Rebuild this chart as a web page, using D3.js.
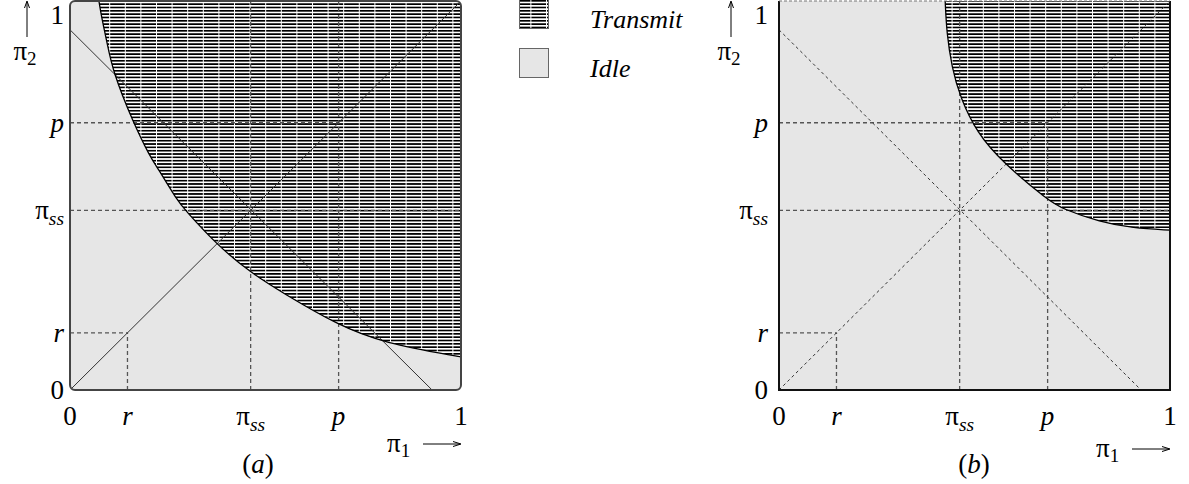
<!DOCTYPE html>
<html>
<head>
<meta charset="utf-8">
<script src="https://cdn.jsdelivr.net/npm/d3@7"></script>
<style>
  body { margin: 0; background: #fff; }
  svg text { font-family: "Liberation Serif", "Times New Roman", Times, serif; }
</style>
</head>
<body>
<svg id="chart" width="1189" height="484"></svg>
<script>
// Axis marks shared by both panels (pi_1 and pi_2 axes)
const tickNames = ["0", "r", "π_ss", "p", "1"];
const tickValues = [0, 0.147, 0.462, 0.687, 1];

// Boundary between the Idle and Transmit regions, panel (a)
const boundaryA = [
  [0.074, 1.000], [0.081, 0.957], [0.094, 0.897], [0.110, 0.817],
  [0.161, 0.689], [0.205, 0.599], [0.223, 0.573], [0.274, 0.488],
  [0.294, 0.463], [0.376, 0.373], [0.460, 0.303], [0.545, 0.249],
  [0.685, 0.167], [0.801, 0.121], [1.000, 0.085]
];
// Boundary between the Idle and Transmit regions, panel (b)
const boundaryB = [
  [0.425, 1.000], [0.429, 0.916], [0.442, 0.830], [0.463, 0.753],
  [0.506, 0.661], [0.573, 0.584], [0.688, 0.488], [0.726, 0.465],
  [0.821, 0.432], [0.905, 0.416], [1.000, 0.411]
];

// Reference lines: pi_1 = pi_2 and pi_1 + pi_2 = 2 pi_ss
const diagonal = [[0, 0], [1, 1]];
const antiDiagonal = [[0, 0.926], [0.926, 0]];

// Guide lines at r, pi_ss, p: does the horizontal / vertical one cross the whole panel?
const fullHorizA = [false, true, false];
const fullVertA = [false, true, true];
const fullHorizB = [false, true, false];
const fullVertB = [false, true, false];

const legendLabels = ["Transmit", "Idle"];
const panelLabels = ["(a)", "(b)"];

const svg = d3.select("#chart");
const defs = svg.append("defs");

// Horizontal hatching broken by thin white vertical gaps
const hatch = defs.append("pattern")
  .attr("id", "hatch")
  .attr("patternUnits", "userSpaceOnUse")
  .attr("width", 15.6).attr("height", 3.33);
hatch.append("rect").attr("width", 15.6).attr("height", 3.33).attr("fill", "#fff");
hatch.append("rect").attr("width", 15.6).attr("height", 1.6).attr("fill", "#000")
  .attr("shape-rendering", "crispEdges");
hatch.append("rect").attr("width", 1).attr("height", 3.33).attr("fill", "#fff")
  .attr("shape-rendering", "crispEdges");

const IDLE = "#e6e6e6";

const panels = [
  { label: panelLabels[0], x0: 70, x1: 461, y0: 390, y1: 1, boundary: boundaryA,
    fullH: fullHorizA, fullV: fullVertA, rounded: 5, refDash: null, yLabelGap: 6,
    arrow2X: 27, pi1Y: 444, captionX: 258 },
  { label: panelLabels[1], x0: 779, x1: 1170, y0: 390, y1: 1, boundary: boundaryB,
    fullH: fullHorizB, fullV: fullVertB, rounded: 0, refDash: "3,3", yLabelGap: 11,
    arrow2X: 731, pi1Y: 449, captionX: 974 }
];

function drawName(sel, name, size) {
  sel.attr("font-size", size);
  if (name === "π_ss") {
    sel.append("tspan").text("π");
    sel.append("tspan").text("ss").attr("font-style", "italic")
      .attr("font-size", size * 0.72).attr("dy", size * 0.22);
  } else if (/^[0-9]$/.test(name)) {
    sel.text(name);
  } else {
    sel.text(name).attr("font-style", "italic");
  }
}

panels.forEach(P => {
  const x = d3.scaleLinear().domain([0, 1]).range([P.x0, P.x1]);
  const y = d3.scaleLinear().domain([0, 1]).range([P.y0, P.y1]);
  const g = svg.append("g");
  const clipId = "clip" + P.label.replace(/[()]/g, "");
  defs.append("clipPath").attr("id", clipId)
    .append("rect")
    .attr("x", x(0)).attr("y", y(1))
    .attr("width", x(1) - x(0)).attr("height", y(0) - y(1))
    .attr("rx", P.rounded);

  const inner = g.append("g").attr("clip-path", `url(#${clipId})`);

  // Idle background
  inner.append("rect")
    .attr("x", x(0)).attr("y", y(1))
    .attr("width", x(1) - x(0)).attr("height", y(0) - y(1))
    .attr("fill", IDLE);

  // Transmit region: above the boundary curve
  const area = d3.area()
    .x(d => x(d[0])).y0(y(1)).y1(d => y(d[1]))
    .curve(d3.curveBasis);
  inner.append("path").datum(P.boundary)
    .attr("d", area).attr("fill", "url(#hatch)");

  // Dashed guide lines at r, pi_ss, p
  const guides = tickValues.slice(1, 4);
  guides.forEach((v, i) => {
    inner.append("line")
      .attr("x1", x(0)).attr("x2", x(P.fullH[i] ? 1 : v)).attr("y1", y(v)).attr("y2", y(v))
      .attr("stroke", "#555").attr("stroke-width", 1.3).attr("stroke-dasharray", "4,3");
    inner.append("line")
      .attr("x1", x(v)).attr("x2", x(v)).attr("y1", y(0)).attr("y2", y(P.fullV[i] ? 1 : v))
      .attr("stroke", "#555").attr("stroke-width", 1.3).attr("stroke-dasharray", "4,3");
  });

  // Reference lines
  const line = d3.line().x(d => x(d[0])).y(d => y(d[1]));
  [diagonal, antiDiagonal].forEach(seg => {
    inner.append("path").datum(seg).attr("d", line)
      .attr("fill", "none").attr("stroke", "#333").attr("stroke-width", 1)
      .attr("stroke-dasharray", P.refDash);
  });

  // Boundary curve
  inner.append("path").datum(P.boundary)
    .attr("d", d3.line().x(d => x(d[0])).y(d => y(d[1])).curve(d3.curveBasis))
    .attr("fill", "none").attr("stroke", "#000").attr("stroke-width", 1.3);

  // Frame
  if (P.rounded) {
    g.append("rect")
      .attr("x", x(0)).attr("y", y(1))
      .attr("width", x(1) - x(0)).attr("height", y(0) - y(1))
      .attr("rx", P.rounded)
      .attr("fill", "none").attr("stroke", "#444").attr("stroke-width", 2);
  } else {
    g.append("path")
      .attr("d", `M${x(0)},${y(1)}V${y(0)}H${x(1)}V${y(1)}`)
      .attr("fill", "none").attr("stroke", "#111").attr("stroke-width", 2);
    g.append("line")
      .attr("x1", x(0)).attr("x2", x(1)).attr("y1", y(1)).attr("y2", y(1))
      .attr("stroke", "#777").attr("stroke-width", 1).attr("stroke-dasharray", "3,2");
  }

  // Tick labels on pi_1 axis
  tickNames.forEach((name, i) => {
    g.append("text")
      .attr("x", x(tickValues[i])).attr("y", 425)
      .attr("text-anchor", "middle")
      .call(drawName, name, 27);
  });
  // Tick labels on pi_2 axis (the top one kept inside the page)
  tickNames.forEach((name, i) => {
    g.append("text")
      .attr("x", x(0) - P.yLabelGap).attr("y", Math.max(y(tickValues[i]), 15))
      .attr("dy", "0.33em")
      .attr("text-anchor", "end")
      .call(drawName, name, 27);
  });

  // pi_2 axis arrow and name
  g.append("line")
    .attr("x1", P.arrow2X).attr("x2", P.arrow2X).attr("y1", 37).attr("y2", 2)
    .attr("stroke", "#000").attr("stroke-width", 1);
  g.append("path")
    .attr("d", `M${P.arrow2X - 2.5},8 L${P.arrow2X},1 L${P.arrow2X + 2.5},8`)
    .attr("fill", "none").attr("stroke", "#000").attr("stroke-width", 1);
  const t2 = g.append("text").attr("x", P.arrow2X - 2).attr("y", 60)
    .attr("text-anchor", "middle").attr("font-size", 27);
  t2.append("tspan").text("π");
  t2.append("tspan").text("2").attr("font-size", 19).attr("dy", 5);

  // pi_1 axis name and arrow
  const t1 = g.append("text").attr("x", x(1) - 74).attr("y", P.pi1Y + 8)
    .attr("font-size", 27);
  t1.append("tspan").text("π");
  t1.append("tspan").text("1").attr("font-size", 19).attr("dy", 5);
  g.append("line")
    .attr("x1", x(1) - 38).attr("x2", x(1) - 1).attr("y1", P.pi1Y).attr("y2", P.pi1Y)
    .attr("stroke", "#000").attr("stroke-width", 1);
  g.append("path")
    .attr("d", `M${x(1) - 8},${P.pi1Y - 2.5} L${x(1)},${P.pi1Y} L${x(1) - 8},${P.pi1Y + 2.5}`)
    .attr("fill", "none").attr("stroke", "#000").attr("stroke-width", 1);

  // Panel caption
  const cap = g.append("text").attr("x", P.captionX).attr("y", 473)
    .attr("text-anchor", "middle").attr("font-size", 27);
  cap.append("tspan").text("(");
  cap.append("tspan").text(P.label.slice(1, 2)).attr("font-style", "italic");
  cap.append("tspan").text(")");
});

// Legend
const legend = svg.append("g");
const legendFills = ["url(#hatch)", IDLE];
const legendTops = [-1, 48];
legendLabels.forEach((name, i) => {
  legend.append("rect")
    .attr("x", 519.5).attr("y", legendTops[i] + 0.5)
    .attr("width", 29).attr("height", 29)
    .attr("fill", legendFills[i]).attr("stroke", "#666").attr("stroke-width", 1);
  legend.append("text")
    .attr("x", 590).attr("y", legendTops[i] + 29)
    .attr("font-size", 26).attr("font-style", "italic")
    .text(name);
});
</script>
</body>
</html>
